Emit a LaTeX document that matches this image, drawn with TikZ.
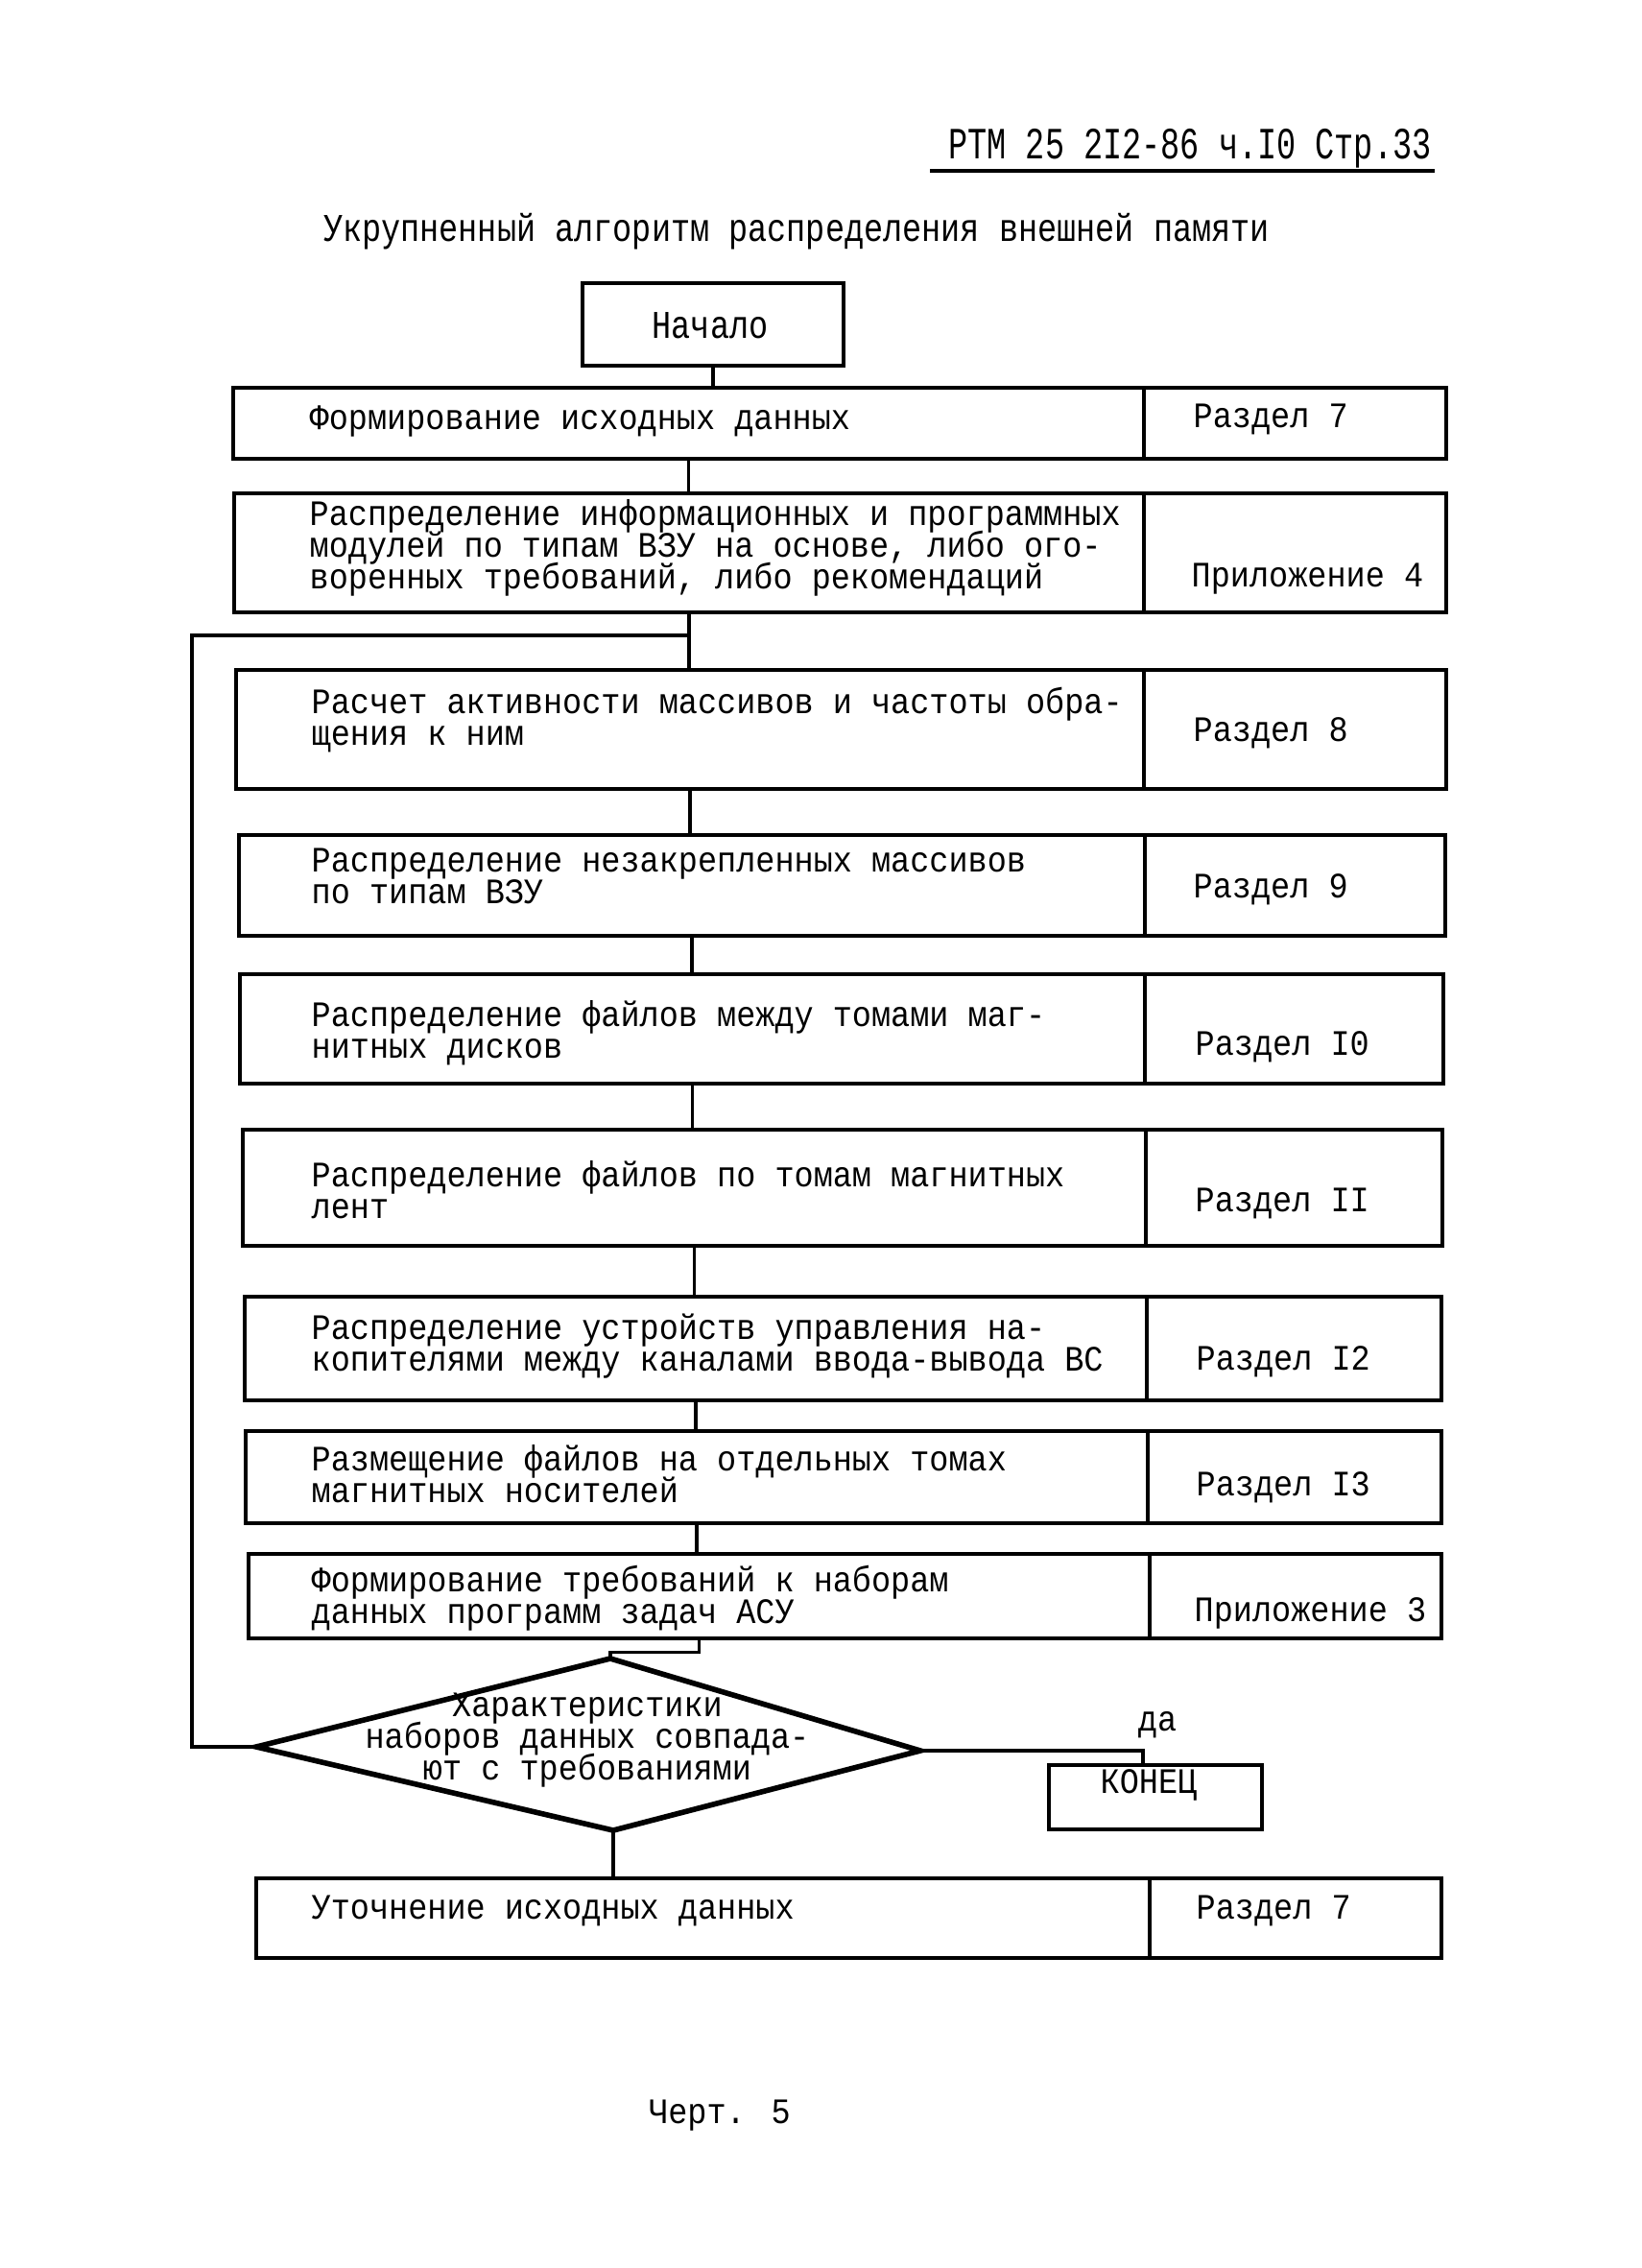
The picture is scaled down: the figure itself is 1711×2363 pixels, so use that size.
\documentclass[tikz,border=0pt]{standalone}
\usepackage{fontspec}
\setmainfont[FakeStretch=0.9]{Liberation Mono}
\usetikzlibrary{fit}
\newcommand\tw{\fontsize{10.6pt}{9.4pt}\selectfont\lineskiplimit=-30pt\relax}
\begin{document}
\begin{tikzpicture}[x=0.1mm,y=-0.1mm,
  cell/.style={draw, line width=1.4pt, inner sep=0pt},
  txt/.style={font=\tw, inner sep=0pt, align=left, anchor=west},
  ctxt/.style={font=\tw, inner sep=0pt, align=center},
  conn/.style={line width=0.9pt}]
\useasboundingbox (0,0) rectangle (1711,2363);
\fill[white] (0,0) rectangle (1711,2363);

% header and title
\node[ctxt, anchor=base] (hdr) at (1240,166) {\scalebox{1}[1.25]{РТМ 25 2I2-86 ч.I0 Стр.33}};
\coordinate (ulA) at (969,178);
\coordinate (ulB) at (1495,178);
\draw[line width=1.3pt] (ulA) -- (ulB);
\node[ctxt] (title) at (830,241) {\scalebox{1}[1.1]{Укрупненный алгоритм распределения внешней памяти}};

% start
\node[cell, fit={(607,295) (879,381)}] (start) {};
\node[ctxt] (startt) at (740,339) {\scalebox{1}[1.1]{Начало}};

% rows
\node[cell, fit={(243,404) (1192,478)}] (b1l) {};
\node[cell, fit={(1192,404) (1507,478)}] (b1r) {};
\node[txt] (b1t) at (322,439) {Формирование исходных данных};
\node[txt] (b1s) at (1243,437) {Раздел 7};

\node[cell, fit={(244,514) (1192,638)}] (b2l) {};
\node[cell, fit={(1192,514) (1507,638)}] (b2r) {};
\node[txt] (b2t) at (322,571) {Распределение информационных и программных\\модулей по типам ВЗУ на основе, либо ого-\\воренных требований, либо рекомендаций};
\node[txt] (b2s) at (1241,603) {Приложение 4};

\node[cell, fit={(246,698) (1192,822)}] (b3l) {};
\node[cell, fit={(1192,698) (1507,822)}] (b3r) {};
\node[txt] (b3t) at (324,750) {Расчет активности массивов и частоты обра-\\щения к ним};
\node[txt] (b3s) at (1243,764) {Раздел 8};

\node[cell, fit={(249,870) (1193,975)}] (b4l) {};
\node[cell, fit={(1193,870) (1506,975)}] (b4r) {};
\node[txt] (b4t) at (324,913) {Распределение незакрепленных массивов\\по типам ВЗУ};
\node[txt] (b4s) at (1243,927) {Раздел 9};

\node[cell, fit={(250,1015) (1193,1129)}] (b5l) {};
\node[cell, fit={(1193,1015) (1504,1129)}] (b5r) {};
\node[txt] (b5t) at (324,1076) {Распределение файлов между томами маг-\\нитных дисков};
\node[txt] (b5s) at (1245,1091) {Раздел I0};

\node[cell, fit={(253,1177) (1194,1298)}] (b6l) {};
\node[cell, fit={(1194,1177) (1503,1298)}] (b6r) {};
\node[txt] (b6t) at (324,1240) {Распределение файлов по томам магнитных\\лент};
\node[txt] (b6s) at (1245,1254) {Раздел II};

\node[cell, fit={(255,1351) (1195,1459)}] (b7l) {};
\node[cell, fit={(1195,1351) (1502,1459)}] (b7r) {};
\node[txt] (b7t) at (324,1403) {Распределение устройств управления на-\\копителями между каналами ввода-вывода ВС};
\node[txt] (b7s) at (1246,1419) {Раздел I2};

\node[cell, fit={(256,1491) (1196,1587)}] (b8l) {};
\node[cell, fit={(1196,1491) (1502,1587)}] (b8r) {};
\node[txt] (b8t) at (324,1536) {Размещение файлов на отдельных томах\\магнитных носителей};
\node[txt] (b8s) at (1246,1550) {Раздел I3};

\node[cell, fit={(259,1619) (1198,1707)}] (b9l) {};
\node[cell, fit={(1198,1619) (1502,1707)}] (b9r) {};
\node[txt] (b9t) at (324,1665) {Формирование требований к наборам\\данных программ задач АСУ};
\node[txt] (b9s) at (1244,1681) {Приложение 3};

% decision (slightly asymmetric, as drawn)
\coordinate (dl) at (267,1820);
\coordinate (dt) at (636,1728);
\coordinate (dr) at (959,1824);
\coordinate (db) at (639,1907);
\draw[line width=1.6pt, line join=miter] (dl) -- (dt) -- (dr) -- (db) -- cycle;
\node[ctxt] (diat) at (612,1813) {Характеристики\\наборов данных совпада-\\ют с требованиями};

\node[cell, fit={(1093,1839) (1315,1906)}] (kon) {};
\node[ctxt] (kont) at (1197,1860) {КОНЕЦ};
\node[ctxt] (da) at (1206,1797) {да};

\node[cell, fit={(267,1957) (1198,2040)}] (bl) {};
\node[cell, fit={(1198,1957) (1502,2040)}] (br) {};
\node[txt] (blt) at (324,1991) {Уточнение исходных данных};
\node[txt] (bls) at (1246,1991) {Раздел 7};

\node[ctxt] (fig) at (750,2204) {Черт. 5};

% connectors
\draw[conn] (start.south) -- (start.south |- b1l.north);
\draw[conn] (b1l.south) -- (b1l.south |- b2l.north);
\draw[conn] (b2l.south) -- (b2l.south |- b3l.north);
\draw[conn] (b3l.south) -- (b3l.south |- b4l.north);
\draw[conn] (b4l.south) -- (b4l.south |- b5l.north);
\draw[conn] (b5l.south) -- (b5l.south |- b6l.north);
\draw[conn] (b6l.south) -- (b6l.south |- b7l.north);
\draw[conn] (b7l.south) -- (b7l.south |- b8l.north);
\draw[conn] (b8l.south) -- (b8l.south |- b9l.north);
\draw[conn] (b9l.south) -- ++(0,12) -| (dt);
\coordinate (loopj) at (b2l.south |- 0,662);
\coordinate (loopc) at (200,662);
\draw[conn] (loopj) -- (loopc) |- (dl);
\draw[conn] (dr) -- (dr -| 1191,0) -- (1191,0 |- kon.north);
\draw[conn] (db) -- (db |- bl.north);
\end{tikzpicture}
\end{document}
